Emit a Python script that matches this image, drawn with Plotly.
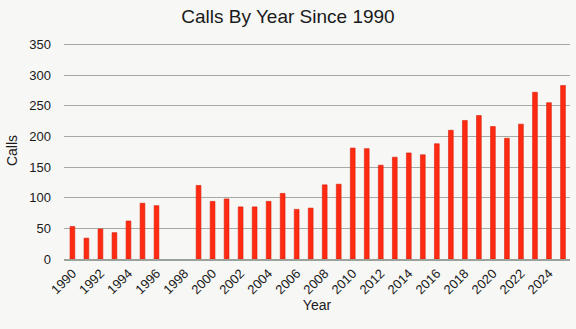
import plotly.graph_objects as go

years = list(range(1990, 2026))
calls = [53, 34, 49, 43, 62, 91, 87, None, None, 120,
         94, 98, 85, 85, 94, 107, 81, 83, 121, 122,
         181, 180, 153, 166, 173, 170, 188, 210, 226, 234,
         216, 197, 220, 272, 255, 283]
tick_years = list(range(1990, 2025, 2))

fig = go.Figure(go.Bar(
    x=years, y=calls,
    marker=dict(color="#ff2a12", line=dict(color="#d81e0a", width=0.6)),
))

fig.update_layout(
    width=576, height=329,
    margin=dict(l=64, r=6, t=42, b=70),
    paper_bgcolor="#f7f7f5", plot_bgcolor="#f7f7f5",
    bargap=0.66,
    showlegend=False,
    font=dict(family="Liberation Sans, Arial, sans-serif", color="#1a1a1a"),
    title=dict(text="Calls By Year Since 1990", x=0.5, xanchor="center",
               y=0.95, yanchor="middle", font=dict(size=19)),
)
fig.update_xaxes(
    range=[1989.4, 2025.5], tickmode="array", tickvals=tick_years,
    ticktext=[str(y) for y in tick_years], tickangle=-45,
    tickfont=dict(size=13), showgrid=False, zeroline=False,
    showline=True, linecolor="#9aa29a", linewidth=1.5,
    title=dict(text="Year", font=dict(size=14), standoff=4),
)
fig.update_yaxes(
    range=[0, 354], tickvals=[0, 50, 100, 150, 200, 250, 300, 350],
    tickfont=dict(size=13), showgrid=True, gridcolor="#a3aba3", gridwidth=1.2,
    zeroline=False, ticks="", ticklabelstandoff=12,
    title=dict(text="Calls", font=dict(size=14), standoff=8),
)

fig.write_html("out.html")
